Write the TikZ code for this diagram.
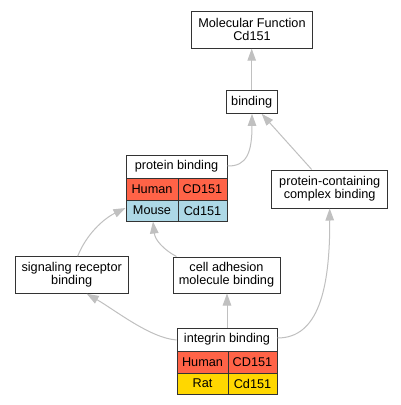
\documentclass[tikz,border=0pt]{standalone}
\usepackage{fontspec}
\setmainfont{Liberation Sans}
\usetikzlibrary{arrows.meta,calc}
\definecolor{tomatoc}{HTML}{FF6347}
\definecolor{lblue}{HTML}{ADD8E6}
\definecolor{goldc}{HTML}{FFD700}
\definecolor{edgec}{HTML}{C0C0C0}
\definecolor{bord}{HTML}{333333}
\tikzset{
 box/.style={draw=bord, line width=1pt, fill=white, rectangle, inner sep=0pt, align=center, font=\fontsize{12.7}{13}\selectfont},
 frame/.style={draw=bord, line width=1pt, fill=none, rectangle, inner sep=0pt},
 edge/.style={draw=edgec, line width=1pt, -{Triangle[length=12pt,width=8.5pt]}},
}
\begin{document}
\begin{tikzpicture}[x=1pt,y=-1pt]
\fill[white] (0,0) rectangle (400,405);
\useasboundingbox (0,0) rectangle (400,405);
\node[box, minimum width=121, minimum height=37] (mf) at (252,29.7) {Molecular Function\\Cd151};
\node[box, minimum width=51, minimum height=22.7] (bind) at (251.7,102) {binding};
\node[box, minimum width=116, minimum height=38] (pcc) at (329.7,189) {protein-containing\\complex binding};
\node[box, minimum width=113, minimum height=36.6] (sig) at (71.7,275) {signaling receptor\\binding};
\node[box, minimum width=107, minimum height=36] (cam) at (226.5,275) {cell adhesion\\molecule binding};
% protein binding table
\node[box, minimum width=101, minimum height=23] (pbh) at (176.5,166.5) {protein binding};
\node[box, fill=tomatoc, minimum width=52, minimum height=22] (pbha) at (152,189) {Human};
\node[box, fill=tomatoc, minimum width=49, minimum height=22] (pbhb) at (202.5,189) {CD151};
\node[box, fill=lblue, minimum width=52, minimum height=21] (pbma) at (152,210.5) {Mouse};
\node[box, fill=lblue, minimum width=49, minimum height=21] (pbmb) at (202.5,210.5) {Cd151};
\node[frame, minimum width=101, minimum height=66] (pb) at (176.5,188) {};
% integrin binding table
\node[box, minimum width=100, minimum height=23] (inth) at (227,339.5) {integrin binding};
\node[box, fill=tomatoc, minimum width=51, minimum height=22] (intha) at (202.5,362) {Human};
\node[box, fill=tomatoc, minimum width=49, minimum height=22] (inthb) at (252.5,362) {CD151};
\node[box, fill=goldc, minimum width=51, minimum height=21] (intra) at (202.5,383.5) {Rat};
\node[box, fill=goldc, minimum width=49, minimum height=21] (intrb) at (252.5,383.5) {Cd151};
\node[frame, minimum width=100, minimum height=66] (int) at (227,361) {};
% edges
\draw[edge] (bind.north) -- (bind.north |- mf.south);
\draw[edge] ([yshift=-11.5pt]pb.north east) .. controls (247,166.5) and (252,152) .. ([xshift=0.3pt]bind.south);
\draw[edge] ([xshift=-18pt]pcc.north) -- ([xshift=10pt]bind.south);
\draw[edge] ([xshift=6pt]sig.north) .. controls (86,235) and (103,219) .. ([yshift=-20pt]pb.west);
\draw[edge] ([xshift=-50pt]cam.north) .. controls (164,250) and (155,240) .. ([xshift=-23.5pt]pb.south);
\draw[edge] ([yshift=21pt]int.west) .. controls (150,338) and (115,310) .. ([xshift=15pt]sig.south);
\draw[edge] (int.north) -- (int.north |- cam.south);
\draw[edge] ([yshift=23pt]int.east) .. controls (318,338) and (330,290) .. (pcc.south);
\end{tikzpicture}
\end{document}
